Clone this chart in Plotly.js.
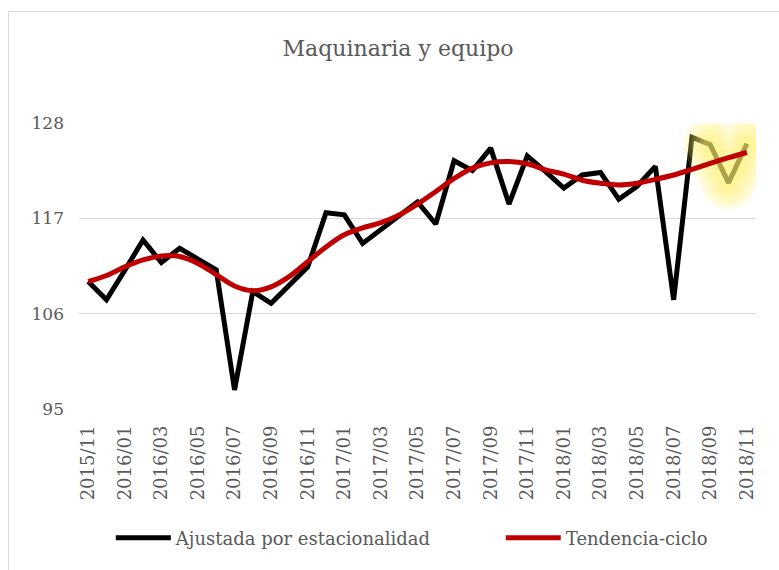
<!DOCTYPE html>
<html>
<head>
<meta charset="utf-8">
<script src="https://cdn.plot.ly/plotly-3.0.1.min.js"></script>
<style>
  html, body { margin: 0; padding: 0; background: #ffffff; }
  #frame { position: absolute; left: 8px; top: 11px; width: 800px; height: 600px;
           border-left: 1px solid #d9d9d9; border-top: 1px solid #d9d9d9; }
  #chart { position: absolute; left: 0; top: 0; width: 779px; height: 570px; }
</style>
</head>
<body>
<div id="frame"></div>
<div id="chart"></div>
<script>
const months = [
  "2015/11","2015/12","2016/01","2016/02","2016/03","2016/04","2016/05","2016/06",
  "2016/07","2016/08","2016/09","2016/10","2016/11","2016/12","2017/01","2017/02",
  "2017/03","2017/04","2017/05","2017/06","2017/07","2017/08","2017/09","2017/10",
  "2017/11","2017/12","2018/01","2018/02","2018/03","2018/04","2018/05","2018/06",
  "2018/07","2018/08","2018/09","2018/10","2018/11"
];
const ajustada = [
  109.7,107.6,111.0,114.5,111.9,113.55,112.3,111.05,
  97.2,108.55,107.2,109.3,111.4,117.65,117.4,114.1,
  115.7,117.35,118.9,116.35,123.65,122.5,125.1,118.65,
  124.2,122.4,120.5,122.0,122.3,119.2,120.7,123.0,
  107.6,126.35,125.5,121.1,125.6
];
const tendencia = [
  109.7,110.4,111.4,112.2,112.65,112.6,111.8,110.5,
  109.2,108.65,109.1,110.3,112.0,113.7,115.1,115.9,
  116.5,117.4,118.65,120.1,121.6,122.8,123.4,123.55,
  123.3,122.6,122.1,121.4,121.05,120.85,121.05,121.5,
  122.0,122.65,123.35,124.0,124.6
];
const yTicks = [95, 106, 117, 128];
const seriesNames = ["Ajustada por estacionalidad", "Tendencia-ciclo"];
const chartTitle = "Maquinaria y equipo";

const xTicks = months.filter((m, i) => i % 2 === 0);
const FONT = "DejaVu Serif, Liberation Serif, serif";
const GREY = "#595959";

// soft glow highlight over the last points of the adjusted series
const glowX = months.slice(34);
const glowY = ajustada.slice(34);
const glowTraces = [54, 46, 38, 30, 22, 16].map(w => ({
  x: glowX, y: glowY, type: "scatter", mode: "lines+markers",
  line: { color: "#fff36e", width: w },
  marker: { color: "#fff36e", size: w, line: { width: 0 } },
  opacity: 0.17, showlegend: false, hoverinfo: "skip"
}));

const traces = [
  { x: months, y: ajustada, name: seriesNames[0], type: "scatter", mode: "lines",
    line: { color: "#000000", width: 5 }, legend: "legend" },
  ...glowTraces,
  { x: months, y: tendencia, name: seriesNames[1], type: "scatter", mode: "lines",
    line: { color: "#c00000", width: 5, shape: "spline", smoothing: 1 }, legend: "legend2" }
];

const legendBase = {
  orientation: "h", xref: "paper", xanchor: "left",
  yref: "paper", y: -0.451, yanchor: "middle",
  font: { family: FONT, size: 18, color: GREY },
  itemwidth: 55, bgcolor: "rgba(0,0,0,0)"
};

const layout = {
  width: 779, height: 570,
  margin: { l: 79, r: 23, t: 123, b: 161 },
  paper_bgcolor: "rgba(0,0,0,0)", plot_bgcolor: "rgba(0,0,0,0)",
  font: { family: FONT, color: GREY, size: 17 },
  title: { text: chartTitle, font: { family: FONT, size: 22, color: GREY },
           xref: "container", x: 0.511, xanchor: "center",
           yref: "container", y: 0.916, yanchor: "middle" },
  xaxis: {
    type: "category", range: [-0.5, 36.5],
    tickmode: "array", tickvals: xTicks, ticktext: xTicks,
    tickangle: -90, tickfont: { family: FONT, size: 18, color: GREY },
    showgrid: false, showline: false, zeroline: false, ticks: "",
    ticklabelstandoff: 12
  },
  yaxis: {
    range: [95, 128], tickmode: "array", tickvals: yTicks,
    tickfont: { family: FONT, size: 17, color: GREY },
    showgrid: true, gridcolor: "#d9d9d9", gridwidth: 1.3,
    zeroline: false, showline: false, ticks: "", ticklabelstandoff: 14
  },
  legend: Object.assign({}, legendBase, { x: 0.047 }),
  legend2: Object.assign({}, legendBase, { x: 0.623 }),
  showlegend: true
};

Plotly.newPlot("chart", traces, layout, { displayModeBar: false, staticPlot: true });
</script>
</body>
</html>
